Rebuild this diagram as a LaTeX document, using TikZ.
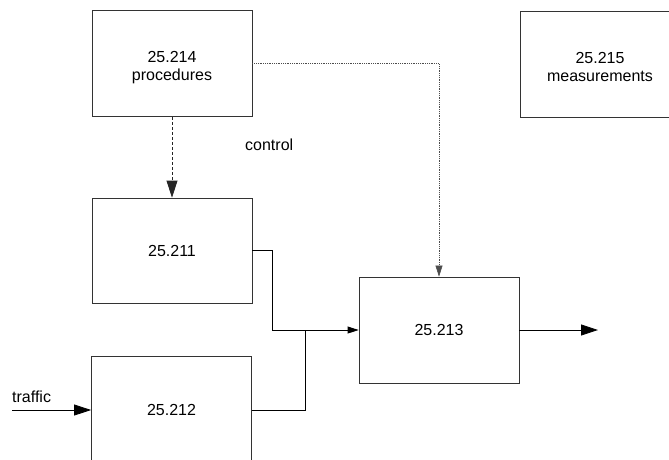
\documentclass[tikz,border=0pt]{standalone}
\usepackage{fontspec}
\setmainfont{Liberation Sans}
\usepackage{tikz}
\usetikzlibrary{calc}
\usetikzlibrary{arrows,arrows.meta,shapes}
\usetikzlibrary{positioning}
\newcommand{\twoln}[2]{\raisebox{0pt}[\dimexpr\height+9pt\relax]{\begin{tabular}{@{}c@{}}#1\\#2\end{tabular}}}
\tikzstyle{blk}=[draw=black!80,line width=0.8pt,minimum width=160pt,minimum height=106pt,
                inner sep=0,align=center,font=\fontsize{16}{18}\selectfont]
\tikzstyle{hit}=[-{Triangle[length=17pt,width=11pt]},line width=0.8pt]
\tikzstyle{hits}=[-{Triangle[length=11pt,width=7pt]},line width=0.8pt]
\tikzstyle{ctl}=[hit,densely dashed,draw=black!85]
\tikzstyle{dot}=[hits,densely dotted,line width=0.6pt,draw=black!70]
\tikzstyle{lbl}=[inner sep=0,anchor=base west,font=\fontsize{16}{18}\selectfont]

\begin{document}
\begin{tikzpicture}[x=1pt,y=-1pt]
\useasboundingbox (0,0) rectangle (669,459);
\node[blk] (P214) at (172,63.5) {\twoln{25.214}{procedures}};
\node[blk] (M215) at (600,64) {\twoln{25.215}{measurements}};
\node[blk,minimum height=105pt] (B211) at (172,250.5) {25.211};
\node[blk,minimum height=108pt] (B212) at (171.5,410) {25.212};
\node[blk] (B213) at (439,330) {25.213};
\node[lbl] (ctl) at (245,150) {control};
\node[lbl] (trf) at (12,402) {traffic};
\coordinate (Tin) at (12,410);
\coordinate (Tout) at (598,330);
\coordinate (J) at (305,330);
\draw[ctl] (P214) -- (B211);
\draw[dot] (P214.east) -| (B213.north);
\draw[hits] (B211.east) -- ++(20,0) |- (B213.west);
\draw[line width=0.8pt] (B212.east) -| (J);
\draw[hit] (Tin) -- (B212.west);
\draw[hit] (B213.east) -- (Tout);
\end{tikzpicture}
\end{document}
